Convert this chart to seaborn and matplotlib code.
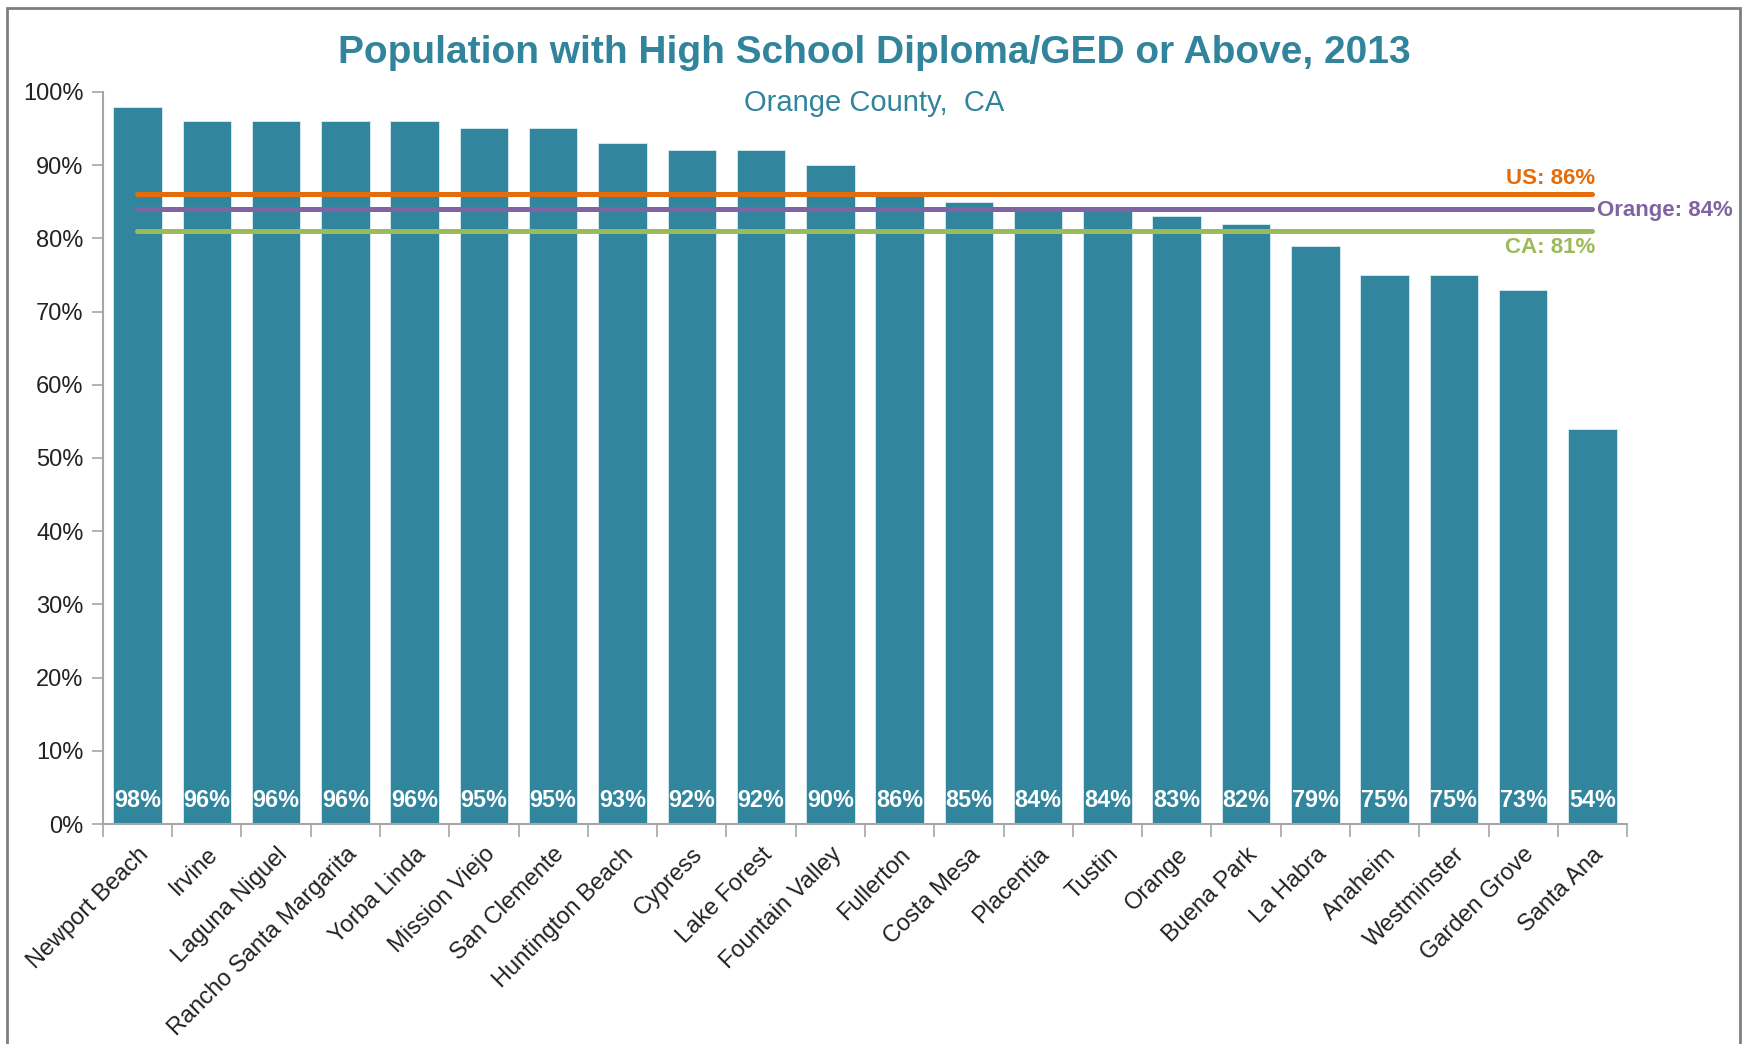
import matplotlib
matplotlib.use("Agg")
import matplotlib.pyplot as plt
from matplotlib.patches import Rectangle
from matplotlib.ticker import FixedLocator, FuncFormatter
import seaborn as sns
import pandas as pd

cities = ["Newport Beach", "Irvine", "Laguna Niguel", "Rancho Santa Margarita", "Yorba Linda",
          "Mission Viejo", "San Clemente", "Huntington Beach", "Cypress", "Lake Forest",
          "Fountain Valley", "Fullerton", "Costa Mesa", "Placentia", "Tustin", "Orange",
          "Buena Park", "La Habra", "Anaheim", "Westminster", "Garden Grove", "Santa Ana"]
values = [98, 96, 96, 96, 96, 95, 95, 93, 92, 92, 90, 86, 85, 84, 84, 83, 82, 79, 75, 75, 73, 54]
ref_names = ["US", "Orange", "CA"]
ref_values = [86, 84, 81]
ref_colors = ["#E46C0A", "#8064A2", "#9BBB59"]
yticks = list(range(0, 101, 10))

title = "Population with High School Diploma/GED or Above, 2013"
subtitle = "Orange County,  CA"

sns.set_style("white")
plt.rcParams['font.family'] = ['Liberation Sans', 'DejaVu Sans']

bar_color = "#31859C"
teal_text = "#31849B"
axis_gray = "#A6A6A6"

df = pd.DataFrame({"city": cities, "value": values})

fig = plt.figure(figsize=(17.43, 10.44), dpi=100)
ax = fig.add_axes([0.059, 0.2107, 0.8745, 0.7013])

sns.barplot(data=df, x="city", y="value", color=bar_color, width=0.7, saturation=1,
            edgecolor="#DDEEF3", linewidth=0.6, ax=ax)

n = len(cities)
ax.set_xlim(-0.5, n - 0.5)
ax.set_ylim(0, 100)

# reference lines
for name, v, c in zip(ref_names, ref_values, ref_colors):
    ax.plot([0, n - 1], [v, v], color=c, lw=3.6, solid_capstyle="round", zorder=5)

ax.annotate(f"{ref_names[0]}: {ref_values[0]}%", xy=(n - 1, ref_values[0]), xytext=(2, 4),
            textcoords="offset points", ha="right", va="bottom", color=ref_colors[0],
            fontsize=16, fontweight="bold", annotation_clip=False)
ax.annotate(f"{ref_names[1]}: {ref_values[1]}%", xy=(n - 1, ref_values[1]), xytext=(3, -1),
            textcoords="offset points", ha="left", va="center", color=ref_colors[1],
            fontsize=16, fontweight="bold", annotation_clip=False)
ax.annotate(f"{ref_names[2]}: {ref_values[2]}%", xy=(n - 1, ref_values[2]), xytext=(2, -4),
            textcoords="offset points", ha="right", va="top", color=ref_colors[2],
            fontsize=16, fontweight="bold", annotation_clip=False)

# data labels
for i, v in enumerate(values):
    ax.annotate(f"{v}%", xy=(i, 0), xytext=(0, 17), textcoords="offset points",
                ha="center", va="center", color="white", fontsize=16.8, fontweight="bold",
                zorder=6)

# axes styling
sns.despine(ax=ax, top=True, right=True)
for s in ["left", "bottom"]:
    ax.spines[s].set_color(axis_gray)
    ax.spines[s].set_linewidth(1.5)

ax.set_yticks(yticks)
ax.yaxis.set_major_formatter(FuncFormatter(lambda v, p: f"{int(v)}%"))
ax.tick_params(axis="y", which="major", left=True, length=8, width=1.2, color=axis_gray,
               labelsize=17, pad=6, labelcolor="#222222")

ax.set_xticks(range(n))
ax.set_xticklabels(cities, rotation=45, ha="right", rotation_mode="anchor")
ax.tick_params(axis="x", which="major", length=0, labelsize=17, pad=14, labelcolor="#222222")
ax.xaxis.set_minor_locator(FixedLocator([i - 0.5 for i in range(n + 1)]))
ax.tick_params(axis="x", which="minor", bottom=True, length=9, width=1.2, color=axis_gray)

ax.set_xlabel("")
ax.set_ylabel("")
ax.grid(False)

fig.text(0.5014, 0.949, title, ha="center", va="center", fontsize=28, fontweight="bold",
         color=teal_text)
fig.text(0.5014, 0.901, subtitle, ha="center", va="center", fontsize=21, color=teal_text)

fig.patches.append(Rectangle((7 / 1743, -0.05), (1740 - 7) / 1743, 1.05 - 8 / 1044,
                             transform=fig.transFigure, fill=False, edgecolor="#7F7F7F",
                             lw=2, clip_on=False))

fig.savefig("out.png", dpi=100)
